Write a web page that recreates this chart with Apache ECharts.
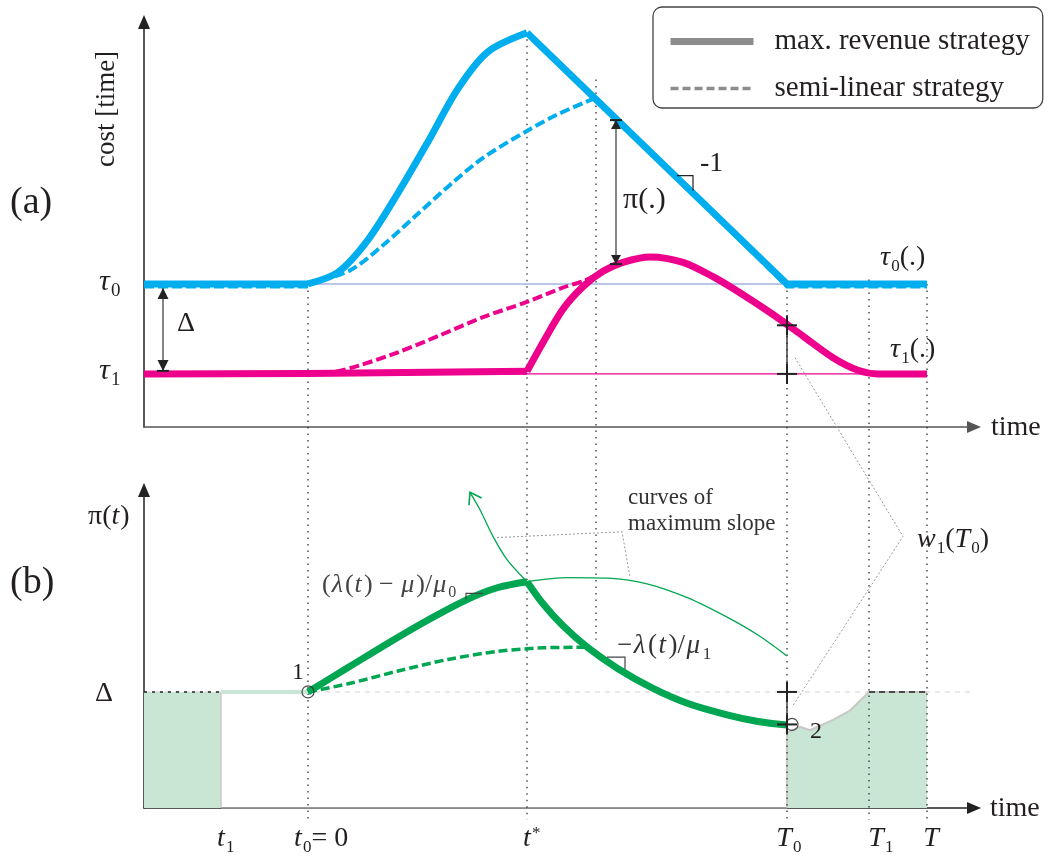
<!DOCTYPE html>
<html>
<head>
<meta charset="utf-8">
<title>cost and pi(t) over time</title>
<script src="https://cdn.jsdelivr.net/npm/echarts@6.0.0/dist/echarts.min.js"></script>
<style>
html, body { margin: 0; padding: 0; background: #fff; }
#mainChart { width: 1051px; height: 863px; }
</style>
</head>
<body>
<div id="mainChart"></div>
<script>
var SERIF = '"Liberation Serif", "DejaVu Serif", serif';

// time axis, t0 = 0
var xMin = -16.4, xMax = 66.6;
var tickTimes = [-8.7, 0, 21.9, 47.9, 56.1, 61.9];
var tickNames = ['t', 't', 't', 'T', 'T', 'T'];
var tickMarks = ['1', '0', '*', '0', '1', ''];
var tickExtra = ['', '= 0', '', '', '', ''];

// panel (a): cost [time]
var yMinA = 0.41, yMaxA = 4.91;
var tau0 = 2, tau1 = 1;
var blueFlat = [[-16.4, 2], [0, 2]];
var blueRise = [[0, 2], [3, 2.13], [6, 2.49], [9, 3.01], [12, 3.58], [15, 4.17], [18, 4.58], [21.9, 4.79]];
var blueFall = [[21.9, 4.79], [47.9, 2], [61.9, 2]];
var blueDashFlat = [[-16.4, 1.97], [0, 1.97]];
var blueDashRise = [[0, 2], [4.2, 2.15], [7.5, 2.43], [10.9, 2.77], [14.2, 3.1], [17.5, 3.4], [21.9, 3.7], [24.9, 3.88], [28.8, 4.07]];
var blueDashFall = [[28.8, 4.07], [47.9, 1.97], [61.9, 1.97]];
var magFlat = [[-16.4, 1], [0, 1.005], [21.9, 1.03]];
var magRise = [[21.9, 1.03], [23.5, 1.35], [25.5, 1.72], [27.5, 1.97], [29.5, 2.14], [31.5, 2.24], [34.2, 2.3], [37.5, 2.24], [40.5, 2.08], [43.5, 1.88], [46.5, 1.66], [49.5, 1.42], [52.5, 1.18], [55, 1.04], [57, 1], [61.9, 1]];
var magDash = [[0, 1], [2.5, 1.02], [5, 1.09], [9, 1.24], [13, 1.42], [17.5, 1.63], [21.9, 1.8], [25.5, 1.96], [27.5, 2.03]];
var tau0Ref = [[-16.4, 2], [52.5, 2]];
var tau1Ref = [[-17.5, 1], [61.9, 1]];

// panel (b): pi(t)
var yMinB = 0, yMaxB = 2.74;
var delta = 1;
var greenRise = [[0, 1], [4, 1.21], [8, 1.42], [12, 1.62], [16, 1.8], [19, 1.9], [21.9, 1.95]];
var greenFall = [[21.9, 1.95], [23.5, 1.76], [25.5, 1.57], [28, 1.38], [31, 1.2], [34.5, 1.03], [38, 0.9], [42, 0.8], [45, 0.745], [47.9, 0.715]];
var greenDash = [[0, 1], [4, 1.07], [9, 1.18], [14, 1.28], [19, 1.35], [23.5, 1.38], [27.9, 1.385]];
var slopeUp = [[21.9, 1.95], [19.9, 2.14], [18.5, 2.34], [17.2, 2.57], [16.2, 2.72]];
var slopeRight = [[21.9, 1.95], [26, 1.985], [30, 1.98], [34, 1.93], [38, 1.81], [42, 1.64], [45, 1.49], [47.9, 1.31]];
var fillLeft = [[-16.4, 1], [-8.7, 1]];
var fillRight = [[47.9, 0], [47.9, 0.65], [49.2, 0.7], [50.2, 0.67], [52.5, 0.76], [54.2, 0.84], [56.1, 1], [61.9, 1]];
var deltaRef = [[-18.3, 1], [74.3, 1]];
var deltaLight = [[-8.7, 1], [0, 1]];
var baseLight = [[-8.7, 0], [47.9, 0]];
var pointMarks = [[0, 1], [48.4, 0.72]];

// guides and annotations
var guideTimes = [0, 21.9, 28.8, 47.9, 56.1, 61.9];
var guideTopA = [2, 4.79, 4.27, 2, 2.05, 2];
var guideEndB = [-0.1, -0.1, 1.45, -0.1, -0.1, -0.1];
var plusA = [[47.9, 1.54], [47.9, 1.0]];
var plusB = [[47.9, 1.0], [47.9, 0.72]];
var deltaArrow = [-14.5, 2, 1];
var piArrow = [30.8, 3.82, 2.22];
var w1Pointer = [[0, 48.7, 1.18], [1, 59.5, 2.34], [1, 48.4, 0.87]];
var slopePointer = [[1, 18.9, 2.33], [1, 31.4, 2.38], [1, 32.2, 1.99]];

var BLUE = '#00aeef', MAG = '#ec008c', GREEN = '#00a651', FILL = '#c9e5d3';

var chart = echarts.init(document.getElementById('mainChart'));
var series = [];

function addLine(g, data, color, width, opt) {
    opt = opt || {};
    series.push({
        type: 'line', xAxisIndex: g, yAxisIndex: g, data: data,
        symbol: 'none', silent: true, animation: false,
        smooth: opt.smooth || false,
        clip: opt.clip !== false,
        z: opt.z || 3,
        lineStyle: { color: color, width: width, type: opt.dash || 'solid', join: 'round' },
        areaStyle: opt.area ? { color: opt.area, opacity: 1 } : undefined
    });
}

// panel (a)
addLine(0, tau0Ref, '#9fb4dc', 1.5, { z: 2 });
addLine(0, tau1Ref, MAG, 1.2, { z: 2, clip: false });
addLine(0, blueDashFlat, BLUE, 4, { dash: [10, 4] });
addLine(0, blueDashRise, BLUE, 4, { dash: [10, 4], smooth: 0.3 });
addLine(0, blueDashFall, BLUE, 4, { dash: [10, 4] });
addLine(0, magDash.concat(magRise.slice(4)), MAG, 4, { dash: [10, 4], smooth: 0.3 });
addLine(0, blueFlat, BLUE, 7);
addLine(0, blueRise, BLUE, 7, { smooth: 0.3 });
addLine(0, blueFall, BLUE, 7);
addLine(0, magFlat, MAG, 7);
addLine(0, magRise, MAG, 7, { smooth: 0.3 });

// panel (b)
addLine(1, deltaRef, '#d0d0d0', 1, { dash: [5, 5], clip: false, z: 1 });
addLine(1, fillLeft, FILL, 0, { area: FILL, z: 1 });
addLine(1, [[-8.7, 0], [-8.7, 1]], '#c8c8c8', 1.5, { z: 1 });
addLine(1, fillRight, '#c8c8c8', 2, { area: FILL, z: 1 });
addLine(1, baseLight, '#b0b0b0', 1.6, { z: 1 });
addLine(1, fillLeft, '#222', 1.5, { dash: [3, 5], z: 2 });
addLine(1, fillRight.slice(-2), '#222', 1.5, { dash: [6, 4], z: 2 });
addLine(1, deltaLight, FILL, 4, { z: 2 });
addLine(1, slopeUp, GREEN, 1.3, { smooth: 0.3 });
addLine(1, slopeRight, GREEN, 1.3, { smooth: 0.3 });
addLine(1, greenDash, GREEN, 3.5, { dash: [9, 4], smooth: 0.3 });
addLine(1, greenRise, GREEN, 7, { smooth: 0.3 });
addLine(1, greenFall, GREEN, 7, { smooth: 0.3 });
series.push({
    type: 'scatter', xAxisIndex: 1, yAxisIndex: 1, data: pointMarks, silent: true,
    symbol: 'circle', symbolSize: 12, z: 6,
    itemStyle: { color: 'rgba(255,255,255,0)', borderColor: '#222', borderWidth: 1.2 }
});

// legend entries
series.push({ type: 'line', name: 'max. revenue strategy', data: [], symbol: 'none', xAxisIndex: 0, yAxisIndex: 0,
    itemStyle: { color: '#8c8c8c' }, lineStyle: { color: '#8c8c8c', width: 7 } });
series.push({ type: 'line', name: 'semi-linear strategy', data: [], symbol: 'none', xAxisIndex: 0, yAxisIndex: 0,
    itemStyle: { color: '#8c8c8c' }, lineStyle: { color: '#8c8c8c', width: 3.5, type: [8, 4] } });

function axisX(g) {
    return {
        type: 'value', gridIndex: g, min: xMin, max: xMax,
        axisLine: { show: true, onZero: false, symbol: ['none', 'triangle'], symbolSize: [12, 14],
            lineStyle: { color: g ? '#222' : '#555', width: 1.5 } },
        axisTick: { show: false }, axisLabel: { show: false }, splitLine: { show: false }
    };
}
function axisY(g, min, max) {
    return {
        type: 'value', gridIndex: g, min: min, max: max,
        axisLine: { show: true, onZero: false, symbol: ['none', 'triangle'], symbolSize: [12, 14],
            lineStyle: { color: '#222', width: 1.5 } },
        axisTick: { show: false }, axisLabel: { show: false }, splitLine: { show: false }
    };
}

var option = {
    animation: false,
    backgroundColor: '#fff',
    grid: [
        { left: 144, right: 77, top: 22, bottom: 436, containLabel: false, outerBoundsMode: 'none' },
        { left: 144, right: 77, top: 490, bottom: 55, containLabel: false, outerBoundsMode: 'none' }
    ],
    xAxis: [axisX(0), axisX(1)],
    yAxis: [axisY(0, yMinA, yMaxA), axisY(1, yMinB, yMaxB)],
    legend: {
        orient: 'vertical', left: 653, top: 7, selectedMode: false,
        itemWidth: 83, itemHeight: 14, itemGap: 18,
        padding: [20, 13, 5, 14],
        borderColor: '#444', borderWidth: 1.3, borderRadius: 9,
        textStyle: { fontFamily: SERIF, fontSize: 29, color: '#231f20', padding: [0, 0, 0, 16] },
        data: [
            { name: 'max. revenue strategy', itemStyle: { opacity: 0 }, lineStyle: { width: 7, color: '#8c8c8c' } },
            { name: 'semi-linear strategy', itemStyle: { opacity: 0 }, lineStyle: { width: 3.5, type: [8, 4], color: '#8c8c8c' } }
        ]
    },
    series: series
};
chart.setOption(option);

// annotations drawn through the grids' scales
function P(g, x, y) { return chart.convertToPixel({ gridIndex: g }, [x, y]); }
function interp(data, x) {
    for (var i = 1; i < data.length; i++) {
        if (x <= data[i][0]) {
            var a = data[i - 1], b = data[i];
            return a[1] + (b[1] - a[1]) * (x - a[0]) / (b[0] - a[0]);
        }
    }
    return data[data.length - 1][1];
}
function L(a, b, style, z) {
    return { type: 'line', silent: true, z: z || 5, shape: { x1: a[0], y1: a[1], x2: b[0], y2: b[1] }, style: style };
}
function PL(pts, style, z) {
    style.fill = null;
    return { type: 'polyline', silent: true, z: z || 5, shape: { points: pts }, style: style };
}
function head(tip, from, len, half, fill) {
    var dx = tip[0] - from[0], dy = tip[1] - from[1], d = Math.sqrt(dx * dx + dy * dy);
    dx /= d; dy /= d;
    var bx = tip[0] - dx * len, by = tip[1] - dy * len;
    return { type: 'polygon', silent: true, z: 6, shape: { points: [tip, [bx - dy * half, by + dx * half], [bx + dy * half, by - dx * half]] }, style: { fill: fill } };
}
function plus(c, s) {
    var st = { stroke: '#222', lineWidth: 2 };
    return [L([c[0] - s, c[1]], [c[0] + s, c[1]], st, 7), L([c[0], c[1] - s], [c[0], c[1] + s], st, 7)];
}

var ctx = document.createElement('canvas').getContext('2d');
function fontOf(size, it) { return (it ? 'italic ' : '') + size + 'px ' + SERIF; }
function runText(x, cy, pieces, size, color, gap) {
    var out = [];
    gap = gap || 0;
    pieces.forEach(function (p) {
        var flag = p[1] || '';
        var small = flag.indexOf('b') >= 0 || flag.indexOf('p') >= 0;
        var s = small ? Math.round(size * 0.62) : size;
        var f = fontOf(s, flag.indexOf('i') >= 0);
        ctx.font = f;
        var y = cy + (flag.indexOf('b') >= 0 ? size * 0.3 : flag.indexOf('p') >= 0 ? -size * 0.2 : 0);
        out.push({ type: 'text', silent: true, z: 8, x: x, y: y,
            style: { text: p[0], font: f, fill: color || '#231f20', align: 'left', verticalAlign: 'middle' } });
        x += ctx.measureText(p[0]).width + (flag.indexOf('i') >= 0 ? size * 0.04 : 0) + gap;
    });
    return out;
}
function textWidth(t, size, it) { ctx.font = fontOf(size, it); return ctx.measureText(t).width; }

var els = [];
var dotted = { stroke: '#333', lineWidth: 1.3, lineDash: [1.5, 5] };
guideTimes.forEach(function (t, i) {
    els.push(L(P(0, t, guideTopA[i]), P(1, t, guideEndB[i]), dotted, 2));
});

// plus markers with connecting strokes
var a1 = P(0, plusA[0][0], plusA[0][1]), a2 = P(0, plusA[1][0], plusA[1][1]);
els.push(L(a1, a2, { stroke: '#222', lineWidth: 1.3 }, 7));
els = els.concat(plus(a1, 10), plus(a2, 10));
var b1 = P(1, plusB[0][0], plusB[0][1]), b2 = P(1, plusB[1][0], plusB[1][1]);
els.push(L(b1, b2, { stroke: '#222', lineWidth: 1.3 }, 7));
els = els.concat(plus(b1, 10), plus(b2, 10));

// delta arrow
var dTop = P(0, deltaArrow[0], deltaArrow[1]), dBot = P(0, deltaArrow[0], deltaArrow[2]);
dTop = [dTop[0], dTop[1] + 4]; dBot = [dBot[0], dBot[1] - 3];
els.push(L(dTop, dBot, { stroke: '#444', lineWidth: 1.3 }, 6));
els.push(head(dTop, dBot, 11, 5.5, '#222'), head(dBot, dTop, 11, 5.5, '#222'));
els.push(L([dBot[0] - 6, dBot[1]], [dBot[0] + 6, dBot[1]], { stroke: '#222', lineWidth: 2 }, 6));

// pi arrow
var pTop = P(0, piArrow[0], piArrow[1]), pBot = P(0, piArrow[0], piArrow[2]);
els.push(L(pTop, pBot, { stroke: '#444', lineWidth: 1.3 }, 6));
els.push(head(pTop, pBot, 9, 5, '#222'), head(pBot, pTop, 9, 5, '#222'));
els.push(L([pTop[0] - 6, pTop[1]], [pTop[0] + 6, pTop[1]], { stroke: '#222', lineWidth: 2 }, 6));
els.push(L([pBot[0] - 6, pBot[1]], [pBot[0] + 6, pBot[1]], { stroke: '#222', lineWidth: 2 }, 6));

// slope corner marks
var sa = P(0, 36.9, interp(blueFall, 36.9));
els.push(PL([[sa[0], sa[1] - 2], [sa[0] + 16, sa[1] - 2], [sa[0] + 16, sa[1] + 13]], { stroke: '#222', lineWidth: 1.2 }, 6));
var sb = P(1, 17.5, interp(greenRise, 17.5));
els.push(PL([[sb[0] - 17, sb[1] + 6], [sb[0] - 17, sb[1]], [sb[0], sb[1]]], { stroke: '#444', lineWidth: 1.2 }, 6));
var sc = P(1, 29.9, interp(greenFall, 29.9));
els.push(PL([[sc[0], sc[1] - 4], [sc[0] + 18, sc[1] - 4], [sc[0] + 18, sc[1] + 8]], { stroke: '#444', lineWidth: 1.2 }, 6));

// thin pointers
var pointerStyle = function () { return { stroke: '#999', lineWidth: 1, lineDash: [2, 2] }; };
els.push(PL(w1Pointer.map(function (p) { return P(p[0], p[1], p[2]); }), pointerStyle(), 4));
els.push(PL(slopePointer.map(function (p) { return P(p[0], p[1], p[2]); }), pointerStyle(), 4));

// open arrow head on the thin slope curve
var tip = P(1, slopeUp[4][0], slopeUp[4][1]), pre = P(1, slopeUp[3][0], slopeUp[3][1]);
(function () {
    var dx = tip[0] - pre[0], dy = tip[1] - pre[1], d = Math.sqrt(dx * dx + dy * dy);
    dx /= d; dy /= d;
    var len = 13, c = Math.cos(0.6), s = Math.sin(0.6);
    var w1 = [tip[0] - len * (dx * c - dy * s), tip[1] - len * (dy * c + dx * s)];
    var w2 = [tip[0] - len * (dx * c + dy * s), tip[1] - len * (dy * c - dx * s)];
    els.push(PL([w1, tip, w2], { stroke: GREEN, lineWidth: 1.6 }, 6));
})();

// texts
var texts = [
    [10, 203, [['(a)']], 38],
    [10, 583, [['(b)']], 38],
    [99, 282, [['τ', 'i'], ['0', 'b']], 30],
    [99, 371, [['τ', 'i'], ['1', 'b']], 30],
    [177, 324, [['Δ']], 28],
    [623, 200, [['π(.)']], 30],
    [700, 164, [['-1']], 28],
    [880, 258, [['τ', 'i'], ['0', 'b'], ['(.)']], 28],
    [890, 350, [['τ', 'i'], ['1', 'b'], ['(.)']], 28],
    [991, 428, [['time']], 28],
    [88, 517, [['π('], ['t', 'i'], [')']], 28],
    [95, 694, [['Δ']], 28],
    [292, 673, [['1']], 24],
    [810, 732, [['2']], 24],
    [990, 809, [['time']], 28],
    [917, 540, [['w', 'i'], ['1', 'b'], ['('], ['T', 'i'], ['0', 'b'], [')']], 28]
];
texts.forEach(function (t) { els = els.concat(runText(t[0], t[1], t[2], t[3])); });
els = els.concat(runText(628, 498, [['curves of']], 23, '#333'));
els = els.concat(runText(628, 524, [['maximum slope']], 23, '#333'));
els = els.concat(runText(322, 585, [['('], ['λ', 'i'], ['('], ['t', 'i'], [') − '], ['μ', 'i'], [')/'], ['μ', 'i'], ['0', 'b']], 26, '#444', 1));
els = els.concat(runText(617, 646, [['−'], ['λ', 'i'], ['('], ['t', 'i'], [')/'], ['μ', 'i'], ['1', 'b']], 27, '#333', 1.5));

els.push({ type: 'text', silent: true, z: 8, x: 107, y: 109, rotation: Math.PI / 2,
    style: { text: 'cost [time]', font: fontOf(27, false), fill: '#231f20', align: 'center', verticalAlign: 'middle' } });

// time tick labels under panel (b)
var tickShift = [0, -10, 0, -3, 7, 4];
tickTimes.forEach(function (t, i) {
    var px = P(1, t, 0)[0] + tickShift[i];
    var x0 = px - textWidth(tickNames[i], 28, true) / 2;
    var pieces = [[tickNames[i], 'i']];
    if (tickMarks[i]) pieces.push([tickMarks[i], tickMarks[i] === '*' ? 'p' : 'b']);
    if (tickExtra[i]) pieces.push([tickExtra[i]]);
    els = els.concat(runText(x0, 839, pieces, 28));
});

chart.setOption({ graphic: { elements: els } });
</script>
</body>
</html>
